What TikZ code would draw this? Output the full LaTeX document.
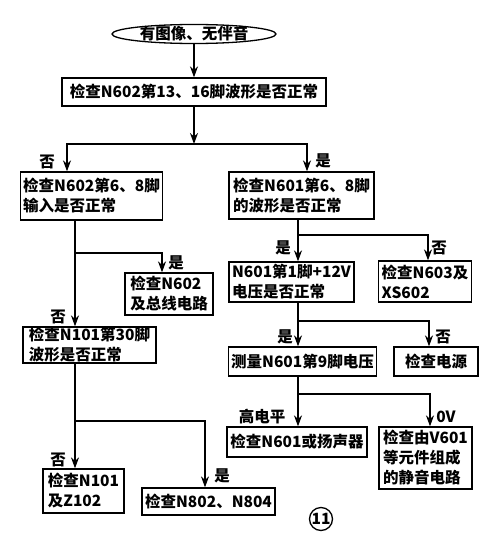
\documentclass[tikz,border=0pt]{standalone}
\usepackage{fontspec}
\setmainfont{Noto Sans CJK SC}
\usetikzlibrary{arrows.meta, shapes.geometric}

\begin{document}
\begin{tikzpicture}[
    x=1pt, y=-1pt,
    every node/.style={font=\fontsize{15.5}{20}\selectfont\bfseries},
    box/.style={draw, line width=1.3pt, inner xsep=3pt, inner ysep=0pt, align=left},
    lbl/.style={inner sep=1pt},
    arr/.style={-{Stealth[length=11pt, width=8pt]}, line width=1.3pt},
]

\useasboundingbox (0,0) rectangle (493,546);

% ---------------------------------------------------------------- start
\node[draw, ellipse, line width=1.3pt, minimum width=164pt, minimum height=19pt,
      inner sep=0pt] (start) at (194,34) {};
\node (starttxt) at (start) {有图像、无伴音};

% ---------------------------------------------------------------- boxes
\node[box, align=center, minimum width=264pt, minimum height=28pt] (b1) at (194,92)
    {检查N602第13、16脚波形是否正常};

% left column
\node[box, minimum width=141pt, minimum height=48pt] (b2) at (91.5,196)
    {检查N602第6、8脚\\输入是否正常};
\node[box, minimum width=88pt, minimum height=42pt] (b4) at (169,294)
    {检查N602\\及总线电路};
\node[box, minimum width=133pt, minimum height=36pt] (b5) at (89.5,345)
    {检查N101第30脚\\波形是否正常};
\node[box, minimum width=81pt, minimum height=44pt] (b6) at (83.5,491)
    {检查N101\\及Z102\phantom{1}};
\node[box, minimum width=125pt, minimum height=27pt] (b7) at (208.5,501.5)
    {检查N802、N804};

% right column
\node[box, minimum width=145pt, minimum height=47pt] (b3) at (301.5,195.5)
    {检查N601第6、8脚\\的波形是否正常};
\node[box, minimum width=123pt, minimum height=40pt] (b8) at (291.5,282)
    {N601第1脚+12V\\电压是否正常\phantom{N}};
\node[box, minimum width=90pt, minimum height=41pt] (b9) at (425,281.5)
    {检查N603及\\XS602\phantom{N60}};
\node[box, minimum width=145pt, minimum height=29pt] (b10) at (302.5,361.5)
    {测量N601第9脚电压};
\node[box, minimum width=84pt, minimum height=29pt] (b11) at (436,361.5)
    {检查电源};
\node[box, minimum width=140pt, minimum height=30pt] (b12) at (297,442)
    {检查N601或扬声器};
\node[box, minimum width=93pt, minimum height=62pt] (b13) at (425.5,458)
    {检查由V601\\等元件组成\\的静音电路};

% ---------------------------------------------------------------- branch points
\coordinate (s1)  at (194,144);
\coordinate (s1l) at (67,144);
\coordinate (s1r) at (307,144);
\coordinate (t1)  at (75,253);
\coordinate (t1r) at (162,253);
\coordinate (t2)  at (75,421);
\coordinate (t2r) at (205,421);
\coordinate (t3)  at (298,235);
\coordinate (t3r) at (428,235);
\coordinate (t4)  at (298,321);
\coordinate (t4r) at (429,321);
\coordinate (t5)  at (298,394);
\coordinate (t5r) at (430,394);

% ---------------------------------------------------------------- connectors
\draw[arr] (start.south) -- (b1.north);
\draw[arr] (b1.south) -- (s1);
\draw[arr] (s1) -- (s1l) -- (s1l |- b2.north);
\draw[arr] (s1) -- (s1r) -- (s1r |- b3.north);

\draw[arr] (t1 |- b2.south) -- (t1 |- b5.north);
\draw[arr] (t1) -- (t1r) -- (t1r |- b4.north);
\draw[arr] (t2 |- b5.south) -- (t2 |- b6.north);
\draw[arr] (t2) -- (t2r) -- (t2r |- b7.north);

\draw[arr] (t3 |- b3.south) -- (t3 |- b8.north);
\draw[arr] (t3) -- (t3r) -- (t3r |- b9.north);
\draw[arr] (t4 |- b8.south) -- (t4 |- b10.north);
\draw[arr] (t4) -- (t4r) -- (t4r |- b11.north);
\draw[arr] (t5 |- b10.south) -- (t5 |- b12.north);
\draw[arr] (t5) -- (t5r) -- (t5r |- b13.north);

% ---------------------------------------------------------------- labels
\node[lbl] (l1)  at (47,162)  {否};
\node[lbl] (l2)  at (323,161) {是};
\node[lbl] (l3)  at (176,263) {是};
\node[lbl] (l4)  at (58,317)  {否};
\node[lbl] (l5)  at (58,460)  {否};
\node[lbl] (l6)  at (222,476) {是};
\node[lbl] (l7)  at (283,248) {是};
\node[lbl] (l8)  at (439,248) {否};
\node[lbl] (l9)  at (285,337) {是};
\node[lbl] (l10) at (443,337) {否};
\node[lbl] (l11) at (262,417) {高电平};
\node[lbl] (l12) at (446,417) {0V};

% ---------------------------------------------------------------- figure number
\node[draw, circle, line width=1.3pt, minimum size=23pt, inner sep=0pt] (fig) at (321,519) {11};

\end{tikzpicture}
\end{document}
